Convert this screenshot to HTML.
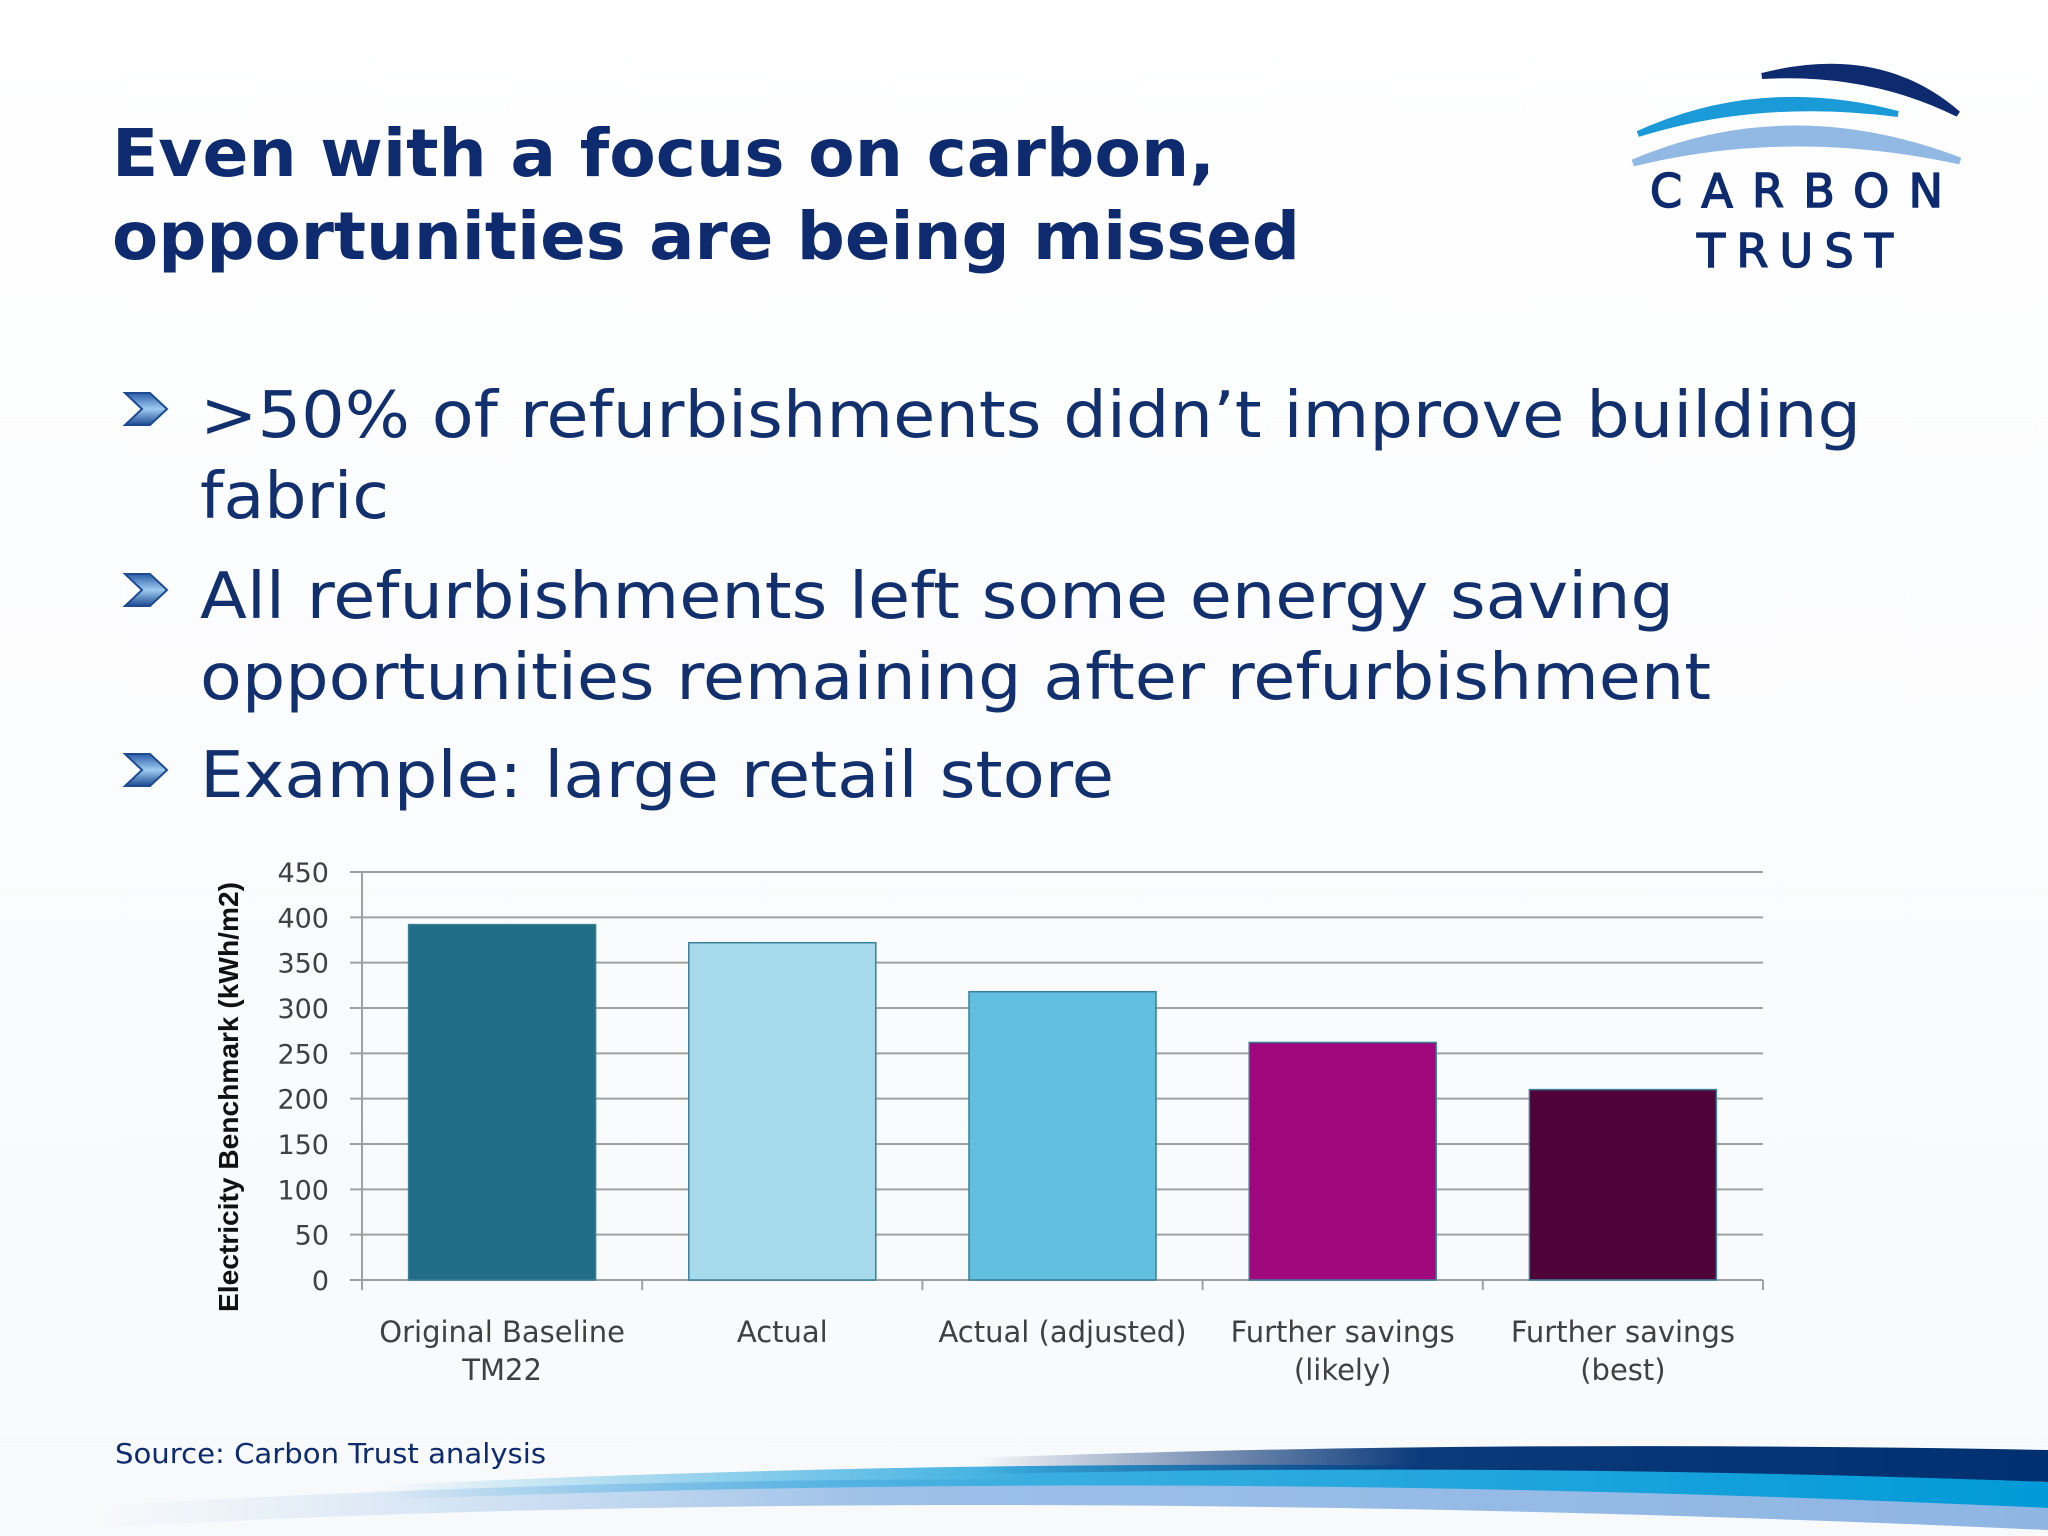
<!DOCTYPE html>
<html><head><meta charset="utf-8"><style>
html,body{margin:0;padding:0;background:#fff;}
svg{display:block;}
</style></head><body>
<svg width="2048" height="1536" viewBox="0 0 2048 1536" xmlns="http://www.w3.org/2000/svg">
<defs>
<linearGradient id="bg" x1="0" y1="0" x2="0" y2="1"><stop offset="0" stop-color="#ffffff"/><stop offset="1" stop-color="#f7f9fb"/></linearGradient>
<linearGradient id="gd" x1="0" y1="0" x2="1" y2="0"><stop offset="0.35" stop-color="#0a2f72" stop-opacity="0"/><stop offset="0.62" stop-color="#0a3a7a" stop-opacity="1"/><stop offset="1" stop-color="#003070"/></linearGradient>
<linearGradient id="gc" x1="0" y1="0" x2="1" y2="0"><stop offset="0.1" stop-color="#2aa6dd" stop-opacity="0"/><stop offset="0.45" stop-color="#39aee0"/><stop offset="1" stop-color="#009ad8"/></linearGradient>
<linearGradient id="gl" x1="0" y1="0" x2="1" y2="0"><stop offset="0" stop-color="#b8d3ef" stop-opacity="0"/><stop offset="0.4" stop-color="#9cc0e8"/><stop offset="1" stop-color="#8fb5e3"/></linearGradient>
<linearGradient id="chev" x1="0" y1="0" x2="0" y2="1"><stop offset="0" stop-color="#2a5ea8"/><stop offset="0.5" stop-color="#9ecbf0"/><stop offset="1" stop-color="#1d4a92"/></linearGradient>
</defs>
<rect width="2048" height="1536" fill="url(#bg)"/>

<g font-family="DejaVu Sans, Liberation Sans, sans-serif" font-weight="bold" font-size="66" fill="#0d2b6e">
<text x="112" y="176" textLength="1103" lengthAdjust="spacingAndGlyphs">Even with a focus on carbon,</text>
<text x="112" y="259" textLength="1188" lengthAdjust="spacingAndGlyphs">opportunities are being missed</text>
</g>

<g>
<path d="M1762,76 Q1880,46 1958,114 Q1870,70 1762,76 Z" fill="#0d2b6e" stroke="#0d2b6e" stroke-width="6"/>
<path d="M1638,134 Q1760,78 1898,114 Q1760,96 1638,134 Z" fill="#1b9ad8" stroke="#1b9ad8" stroke-width="6"/>
<path d="M1633,163 Q1790,96 1960,161 Q1790,124 1633,163 Z" fill="#92b8e4" stroke="#92b8e4" stroke-width="7"/>
<text x="1650" y="207" font-family="DejaVu Sans, Liberation Sans, sans-serif" font-size="46" fill="#0d2b6e" stroke="#0d2b6e" stroke-width="1.5" textLength="293" lengthAdjust="spacing">CARBON</text>
<text x="1697" y="267" font-family="DejaVu Sans, Liberation Sans, sans-serif" font-size="46" fill="#0d2b6e" stroke="#0d2b6e" stroke-width="1.5" textLength="196" lengthAdjust="spacing">TRUST</text>
</g>

<g font-family="DejaVu Sans, Liberation Sans, sans-serif" font-size="64" fill="#12306e">
<g><path d="M125,393 L150,393 L167,409 L150,425 L125,425 L142,409 Z" fill="url(#chev)" stroke="#1d4a92" stroke-width="2"/></g>
<text x="200" y="437" textLength="1661" lengthAdjust="spacingAndGlyphs">&gt;50% of refurbishments didn’t improve building</text>
<text x="200" y="518" textLength="189" lengthAdjust="spacingAndGlyphs">fabric</text>
<g><path d="M125,574 L150,574 L167,590 L150,606 L125,606 L142,590 Z" fill="url(#chev)" stroke="#1d4a92" stroke-width="2"/></g>
<text x="200" y="618" textLength="1474" lengthAdjust="spacingAndGlyphs">All refurbishments left some energy saving</text>
<text x="200" y="699" textLength="1511" lengthAdjust="spacingAndGlyphs">opportunities remaining after refurbishment</text>
<g><path d="M125,754 L150,754 L167,770 L150,786 L125,786 L142,770 Z" fill="url(#chev)" stroke="#1d4a92" stroke-width="2"/></g>
<text x="200" y="797" textLength="914" lengthAdjust="spacingAndGlyphs">Example: large retail store</text>
</g>

<g id="chart"></g>

<text x="115" y="1463" font-family="DejaVu Sans, Liberation Sans, sans-serif" font-size="28" fill="#0d2b6e" textLength="431" lengthAdjust="spacingAndGlyphs">Source: Carbon Trust analysis</text>

<g>
<path d="M100,1506 C700,1470 1300,1470 2048,1508 L2048,1530 C1300,1496 600,1498 100,1528 Z" fill="url(#gl)"/>
<path d="M200,1495 C800,1460 1400,1455 2048,1482 L2048,1508 C1400,1478 800,1478 200,1508 Z" fill="url(#gc)"/>
<path d="M400,1488 C1000,1448 1500,1440 2048,1450 L2048,1482 C1500,1462 1000,1466 400,1495 Z" fill="url(#gd)"/>
</g>
</svg>
<script>
const categories = [["Original Baseline","TM22"],["Actual"],["Actual (adjusted)"],["Further savings","(likely)"],["Further savings","(best)"]];
const values = [392, 372, 318, 262, 210];
const barColors = ["#216d87","#a6d9eb","#62bfe0","#9e087c","#4e0238"];
const yTicks = [0,50,100,150,200,250,300,350,400,450];
const yTitle = "Electricity Benchmark (kWh/m2)";

const NS = "http://www.w3.org/2000/svg";
const chart = document.getElementById('chart');
const L = 362, R = 1763, T = 872, B = 1280, yMax = 450;
const y = v => B - (v / yMax) * (B - T);
const band = (R - L) / categories.length;
const x = i => L + i * band;
function mk(tag, attrs, parent){ const e = document.createElementNS(NS, tag); for (const k in attrs) e.setAttribute(k, attrs[k]); (parent||chart).appendChild(e); return e; }

yTicks.forEach(t => {
  const g = mk('line', {x1: L - 12, x2: R, y1: y(t), y2: y(t), stroke: "#a0a0a0", "stroke-width": 2});
  
  
  const lb = mk('text', {x: 329, y: y(t) + 10, "text-anchor": "end", "font-family": "DejaVu Sans, Liberation Sans, sans-serif", "font-size": 27, fill: "#404040"});
  lb.textContent = t;
  
  
});
const ax = mk('line', {x1: L, x2: L, y1: T, y2: B + 10, stroke: "#a0a0a0", "stroke-width": 2});


for (let i = 0; i <= categories.length; i++) {
  const tk = mk('line', {x1: x(i), x2: x(i), y1: B, y2: B + 10, stroke: "#a0a0a0", "stroke-width": 2});
  
  
}
const bw = 187;
values.forEach((v, i) => {
  const r = mk('rect', {x: x(i) + (band - bw) / 2, y: y(v), width: bw, height: B - y(v), fill: barColors[i], stroke: "#3a7f96", "stroke-width": 1.5});
  
  
  categories[i].forEach((line, j) => {
    const t = mk('text', {x: x(i) + band / 2, y: 1342 + j * 38, "text-anchor": "middle", "font-family": "DejaVu Sans, Liberation Sans, sans-serif", "font-size": 29, fill: "#404040"});
    t.textContent = line;
    
    
  });
});
const yt = mk('text', {x: 0, y: 0, transform: "translate(238,1097) rotate(-90)", "text-anchor": "middle", "font-family": "Liberation Sans, DejaVu Sans, sans-serif", "font-size": 28, "font-weight": "bold", fill: "#111", textLength: 430, lengthAdjust: "spacingAndGlyphs"});
yt.textContent = yTitle;


</script>
</body></html>
